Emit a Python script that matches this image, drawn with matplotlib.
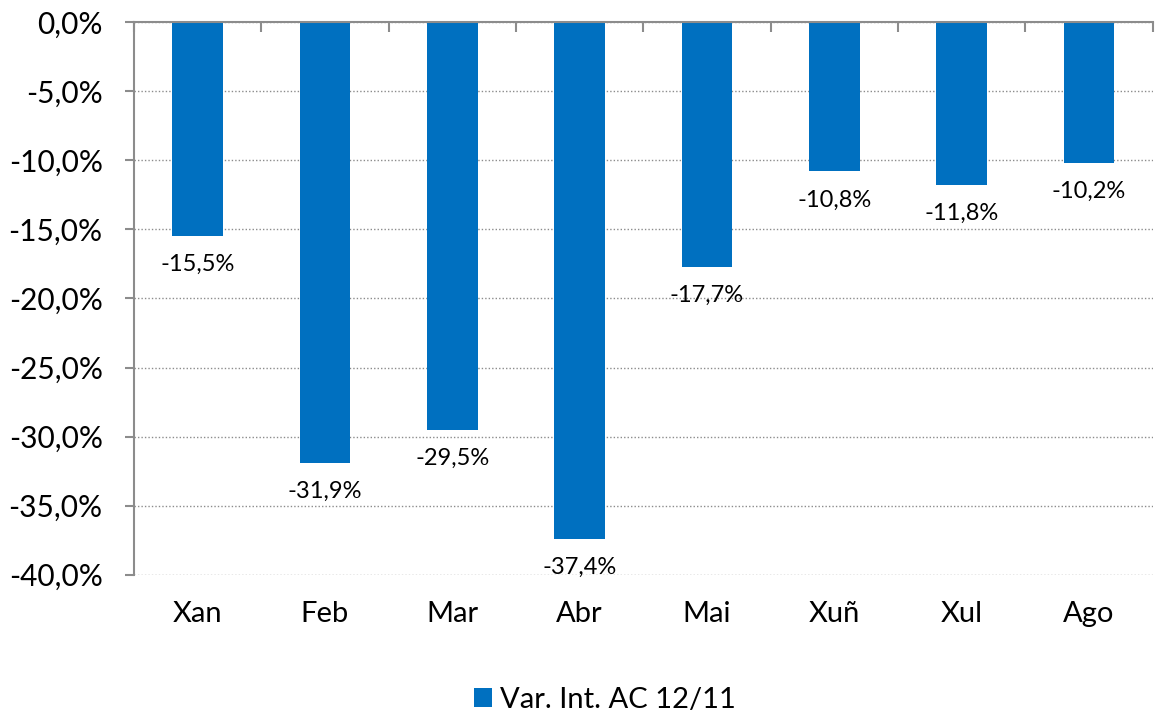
import matplotlib
matplotlib.use('Agg')
from matplotlib import pyplot as plt
from matplotlib.ticker import FuncFormatter
import numpy as np

plt.rcParams['font.family'] = ['Lato', 'DejaVu Sans']

# Data
months = ['Xan', 'Feb', 'Mar', 'Abr', 'Mai', 'Xuñ', 'Xul', 'Ago']
values = [-15.5, -31.9, -29.5, -37.4, -17.7, -10.8, -11.8, -10.2]
series_name = 'Var. Int. AC 12/11'

fig = plt.figure(figsize=(11.55, 7.14), dpi=100)
ax = fig.add_axes([0.116, 0.195, 0.882, 0.774])

x = np.arange(len(months))
bars = ax.bar(x, values, width=0.4, color='#0070C0', label=series_name, zorder=3)

# labels under bar ends
for xi, v in zip(x, values):
    ax.annotate(f'{v:.1f}%'.replace('.', ','), (xi, v), xytext=(0, -13),
                textcoords='offset points', ha='center', va='top', fontsize=17)

ax.set_xlim(-0.5, len(months) - 0.5)
ax.set_ylim(-40, 0)
ax.set_yticks(np.arange(-40, 1, 5))
ax.yaxis.set_major_formatter(FuncFormatter(lambda v, p: f'{v:.1f}%'.replace('.', ',')))

ax.grid(axis='y', color='#8c8c8c', linestyle=(0, (1, 1.5)), linewidth=1, zorder=0)

for s in ['right', 'bottom']:
    ax.spines[s].set_visible(False)
ax.spines['top'].set_color('#8c8c8c')
ax.spines['left'].set_color('#8c8c8c')
ax.spines['top'].set_linewidth(1.5)
ax.spines['left'].set_linewidth(1.5)
ax.spines['top'].set_zorder(4)

ax.set_xticks(x)
ax.set_xticklabels(months, fontsize=21)
ax.set_xticks(np.arange(-0.5, len(months) + 0.5, 1), minor=True)
ax.tick_params(axis='x', which='major', length=0, pad=19)
ax.tick_params(axis='x', which='minor', top=True, bottom=False, direction='in',
               length=7, width=1.5, color='#8c8c8c')
ax.tick_params(axis='y', labelsize=21.5, length=6.5, width=1.5, color='#8c8c8c', pad=16)

fig.legend(loc='lower center', bbox_to_anchor=(0.524, -0.035), frameon=False, fontsize=21,
           handlelength=0.6, handleheight=0.6, handletextpad=0.3)

plt.savefig('out.png', dpi=100)
